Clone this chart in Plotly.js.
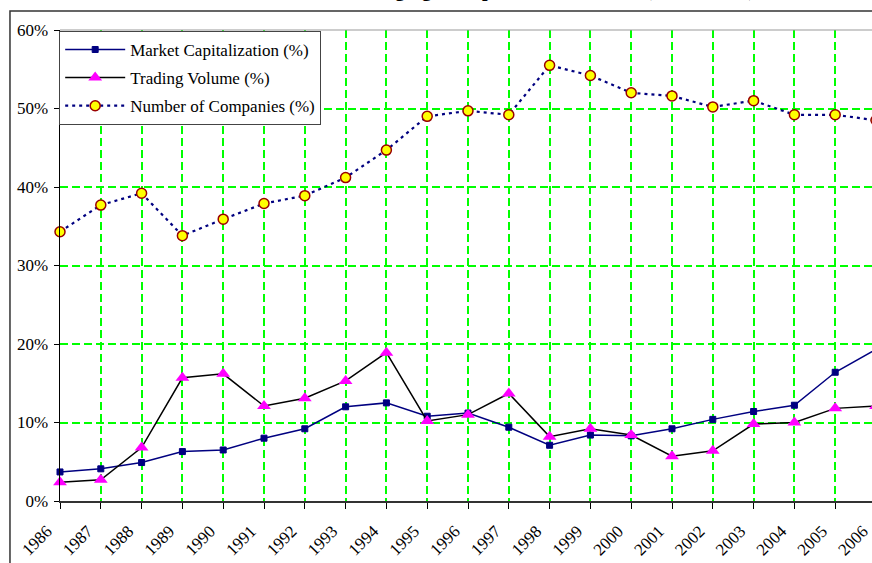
<!DOCTYPE html>
<html>
<head>
<meta charset="utf-8">
<script src="https://cdn.plot.ly/plotly-3.0.1.min.js"></script>
<style>
html,body{margin:0;padding:0;overflow:hidden;background:#fff;width:872px;height:563px;}
#chart{width:900px;height:563px;}
</style>
</head>
<body>
<div id="chart"></div>
<script>
const years = [1986,1987,1988,1989,1990,1991,1992,1993,1994,1995,1996,1997,1998,1999,2000,2001,2002,2003,2004,2005,2006];
const yearLabels = years.map(String);
const marketCap = [3.7,4.1,4.9,6.3,6.5,8.0,9.2,12.0,12.5,10.8,11.2,9.4,7.1,8.4,8.3,9.2,10.4,11.4,12.2,16.4,19.3];
const tradingVolume = [2.4,2.7,6.8,15.7,16.2,12.1,13.1,15.3,18.9,10.2,11.0,13.7,8.2,9.2,8.4,5.7,6.4,9.8,10.0,11.8,12.1];
const numCompanies = [34.3,37.7,39.2,33.8,35.9,37.9,38.9,41.2,44.7,49.0,49.7,49.2,55.5,54.2,52.0,51.6,50.2,51.0,49.2,49.2,48.5];
const yTicks = [0,10,20,30,40,50,60];
const yTickLabels = yTicks.map(v => v + '%');
const seriesNames = ['Market Capitalization (%)','Trading Volume (%)','Number of Companies (%)'];
const titleText = 'Share of Emerging Groups in Total Market (1986 - 2006)';

const FONT = "'Liberation Serif', 'Times New Roman', serif";

const traces = [
  {
    x: years, y: marketCap, name: seriesNames[0], type: 'scatter', mode: 'lines+markers',
    legendgroup: 'a', cliponaxis: false,
    line: {color: '#000080', width: 1.5},
    marker: {symbol: 'square', size: 6, color: '#000080', line: {color: '#000080', width: 1}}
  },
  {
    x: years, y: tradingVolume, name: seriesNames[1], type: 'scatter', mode: 'lines+markers',
    legendgroup: 'b', cliponaxis: false,
    line: {color: '#000000', width: 1.5},
    marker: {symbol: 'triangle-up', size: 12, color: '#FF00FF'}
  },
  {
    x: years, y: numCompanies, name: seriesNames[2], type: 'scatter', mode: 'lines+markers',
    legendgroup: 'c', cliponaxis: false,
    line: {color: '#000080', width: 2.2, dash: '3px,4px'},
    marker: {symbol: 'circle', size: 10, color: '#FFFF00', line: {color: '#990000', width: 1.5}}
  }
];

const layout = {
  width: 900, height: 563,
  margin: {l: 60, r: 24, t: 30, b: 62},
  paper_bgcolor: '#ffffff', plot_bgcolor: '#ffffff',
  font: {family: FONT, size: 17, color: '#000'},
  showlegend: true,
  legend: {
    x: -0.001, y: 0.998, xanchor: 'left', yanchor: 'top',
    bgcolor: '#ffffff', bordercolor: '#444', borderwidth: 1,
    font: {family: FONT, size: 17, color: '#000'},
    itemwidth: 60, traceorder: 'grouped', tracegroupgap: 3
  },
  xaxis: {
    range: [1986, 2006], tickmode: 'array', tickvals: years, ticktext: yearLabels,
    tickangle: -45, ticks: 'outside', ticklen: 6, tickcolor: '#000', tickwidth: 1,
    ticklabelshift: -13, ticklabelstandoff: 6,
    showline: true, linecolor: '#333', linewidth: 1.5,
    showgrid: true, gridcolor: '#00FF00', gridwidth: 2, griddash: '8px,4px',
    zeroline: false, tickfont: {family: FONT, size: 17, color: '#000'}
  },
  yaxis: {
    range: [0, 60], tickmode: 'array', tickvals: yTicks, ticktext: yTickLabels,
    ticks: 'outside', ticklen: 5, tickcolor: '#000', tickwidth: 1,
    ticklabelstandoff: 2,
    showline: true, linecolor: '#000', linewidth: 1.5,
    showgrid: true, gridcolor: '#00FF00', gridwidth: 2, griddash: '8px,4px',
    zeroline: false, tickfont: {family: FONT, size: 17, color: '#000'}
  },
  shapes: [
    {type: 'line', xref: 'paper', yref: 'paper', x0: 0, x1: 1, y0: 1, y1: 1,
     line: {color: '#999', width: 1}, layer: 'above'},
    {type: 'rect', xref: 'paper', yref: 'paper', x0: -0.0613, x1: 1.2, y0: -0.2, y1: 1.0403,
     line: {color: '#333', width: 1.5}, fillcolor: 'rgba(0,0,0,0)', layer: 'above'}
  ],
  annotations: [
    {text: '<b>' + titleText + '</b>', xref: 'paper', yref: 'paper', x: 0.854, y: 1.0573,
     xanchor: 'right', yanchor: 'bottom', showarrow: false,
     font: {family: FONT, size: 20, color: '#000'}}
  ]
};

Plotly.newPlot('chart', traces, layout, {displayModeBar: false, staticPlot: true});
</script>
</body>
</html>
